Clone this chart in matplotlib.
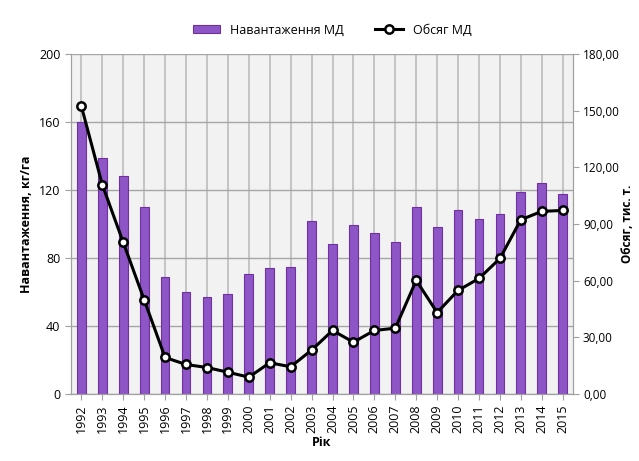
import matplotlib.pyplot as plt
import numpy as np

# === Data ===
years = [str(y) for y in range(1992, 2016)]

# Навантаження МД, кг/га (left axis, bars)
load_kg_ha = [160, 139, 128, 110, 69, 60, 57, 59, 70.5, 74, 74.5, 102,
              88.5, 99.5, 94.5, 89.5, 110, 98, 108, 103, 106, 119, 124, 117.5]

# Обсяг МД, тис. т. (right axis, line)
volume_kt = [152.3, 110.8, 80.3, 49.9, 19.4, 15.7, 14.1, 11.6, 9.0, 16.6, 14.5, 23.3,
             33.7, 27.5, 33.7, 34.9, 60.2, 43.2, 54.9, 61.2, 71.8, 92.3, 96.7, 97.2]

left_ticks = [0, 40, 80, 120, 160, 200]
right_ticks = [0, 30, 60, 90, 120, 150, 180]

plt.rcParams['font.family'] = ['Open Sans', 'DejaVu Sans']

fig = plt.figure(figsize=(6.39, 4.61), dpi=100)
ax = fig.add_axes([0.111, 0.145, 0.786, 0.738])
ax2 = ax.twinx()

x = np.arange(len(years))

ax.set_facecolor('#f2f2f2')
ax.set_axisbelow(True)
ax.bar(x, load_kg_ha, width=0.42, color='#8e55c6', edgecolor='#7030a0',
       linewidth=0.8, label='Навантаження МД', zorder=2)

ax2.plot(x, volume_kt, color='black', linewidth=2.2, marker='o', markersize=6,
         markerfacecolor='white', markeredgecolor='black', markeredgewidth=1.8,
         label='Обсяг МД', zorder=3)

ax.set_xlim(-0.5, len(years) - 0.5)
ax.set_ylim(0, 200)
ax.set_yticks(left_ticks)
ax2.set_ylim(0, 180)
ax2.set_yticks(right_ticks)
ax2.set_yticklabels([f"{v},00" for v in right_ticks])

ax.set_xticks(x)
ax.set_xticklabels(years, rotation=90, fontsize=9)
ax.tick_params(axis='y', labelsize=9, length=4, color='#a0a0a0')
ax.tick_params(axis='x', length=4, color='#a0a0a0')
ax2.tick_params(axis='y', labelsize=8.5, length=4, pad=3, color='#a0a0a0')

ax.grid(True, axis='y', color='#a6a6a6', linewidth=1.0)
ax.grid(True, axis='x', color='#bcbcbc', linewidth=1.2)

for a in (ax, ax2):
    a.spines['top'].set_visible(False)
    for s in ('left', 'right', 'bottom'):
        a.spines[s].set_color('#a0a0a0')

ax.set_xlabel('Рік', fontsize=9, fontweight='bold', labelpad=2)
ax.set_ylabel('Навантаження, кг/га', fontsize=9, fontweight='bold')
ax2.set_ylabel('Обсяг, тис. т.', fontsize=8.5, fontweight='bold', labelpad=1)

h1, l1 = ax.get_legend_handles_labels()
h2, l2 = ax2.get_legend_handles_labels()
fig.legend(h1 + h2, l1 + l2, loc='center', bbox_to_anchor=(0.52, 0.935),
           ncol=2, frameon=False, fontsize=9, handlelength=2.2, columnspacing=2.5)

fig.savefig('out.png', dpi=100)
